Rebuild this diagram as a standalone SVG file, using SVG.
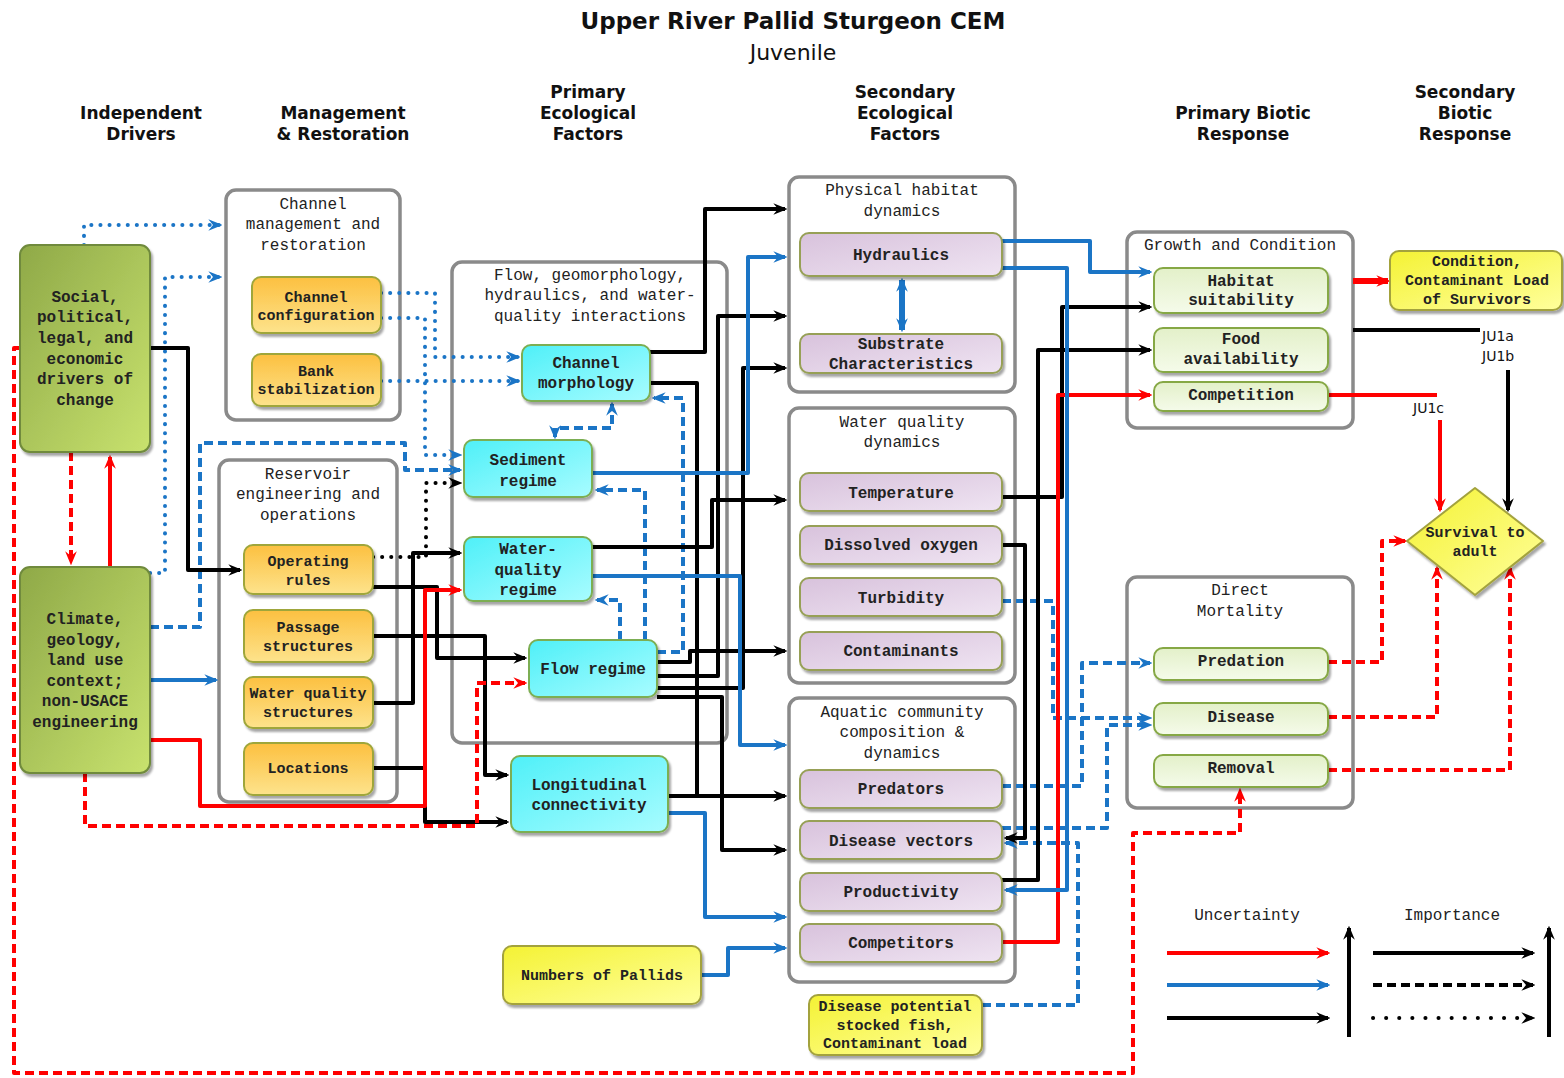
<svg xmlns="http://www.w3.org/2000/svg" width="1564" height="1078" viewBox="0 0 1564 1078">
<style>
  .h{font-family:"DejaVu Sans","Liberation Sans",sans-serif;font-weight:bold;font-size:17px;text-anchor:middle;fill:#111}
  .t{font-family:"Liberation Mono","DejaVu Sans Mono",monospace;font-size:16px;text-anchor:middle;fill:#222}
  .n{font-family:"Liberation Mono","DejaVu Sans Mono",monospace;font-size:16px;font-weight:bold;text-anchor:middle;fill:#222}
  .s{font-size:15px}
  .ju{font-family:"DejaVu Sans","Liberation Sans",sans-serif;font-size:14px;fill:#111}
  .grp{fill:#fff;stroke:#8a8a8a;stroke-width:3.5}
  .box{stroke-width:2;filter:url(#sh)}
  .drv{fill:url(#gGreen);stroke:#6f8a3c}
  .org{fill:url(#gOrange);stroke:#9fa63a}
  .cyn{fill:url(#gCyan);stroke:#7cae52}
  .lav{fill:url(#gLav);stroke:#97a057}
  .pal{fill:url(#gPale);stroke:#86a845}
  .yel{fill:url(#gYellow);stroke:#a3a23e}
  .c{fill:none;stroke-width:4;stroke-linejoin:round}
  .k{stroke:#000}
  .r{stroke:#f00}
  .b{stroke:#1b75c6}
  .dash{stroke-dasharray:9 5}
  .dot{stroke-dasharray:0.1 9;stroke-linecap:round}
</style>
<defs>
  <linearGradient id="gGreen" x1="0" y1="0" x2="1" y2="1"><stop offset="0" stop-color="#8fa948"/><stop offset="1" stop-color="#c8e26e"/></linearGradient>
  <linearGradient id="gOrange" x1="0" y1="0" x2="0" y2="1"><stop offset="0" stop-color="#fcc040"/><stop offset="1" stop-color="#fde38c"/></linearGradient>
  <linearGradient id="gCyan" x1="0" y1="0" x2="1" y2="1"><stop offset="0" stop-color="#4ff0f8"/><stop offset="1" stop-color="#a8fcff"/></linearGradient>
  <linearGradient id="gLav" x1="0" y1="0" x2="1" y2="1"><stop offset="0" stop-color="#d8c2dc"/><stop offset="1" stop-color="#efe4f2"/></linearGradient>
  <linearGradient id="gPale" x1="0" y1="0" x2="0" y2="1"><stop offset="0" stop-color="#e3f0c9"/><stop offset="1" stop-color="#f5fbea"/></linearGradient>
  <linearGradient id="gYellow" x1="0" y1="0" x2="1" y2="1"><stop offset="0" stop-color="#f4f234"/><stop offset="1" stop-color="#ffff9c"/></linearGradient>
  <filter id="sh" x="-10%" y="-10%" width="125%" height="130%"><feDropShadow dx="2" dy="3" stdDeviation="1.2" flood-color="#000" flood-opacity="0.35"/></filter>
  <marker id="ak" viewBox="0 0 12 10" refX="10" refY="5" markerWidth="14" markerHeight="12" markerUnits="userSpaceOnUse" orient="auto-start-reverse"><path d="M0,0 L12,5 L0,10 L4,5 z" fill="#000"/></marker>
  <marker id="ar" viewBox="0 0 12 10" refX="10" refY="5" markerWidth="14" markerHeight="12" markerUnits="userSpaceOnUse" orient="auto-start-reverse"><path d="M0,0 L12,5 L0,10 L4,5 z" fill="#f00"/></marker>
  <marker id="ab" viewBox="0 0 12 10" refX="10" refY="5" markerWidth="14" markerHeight="12" markerUnits="userSpaceOnUse" orient="auto-start-reverse"><path d="M0,0 L12,5 L0,10 L4,5 z" fill="#1b75c6"/></marker>
</defs>
<rect width="1564" height="1078" fill="#fff"/>

<!-- title and column headings -->
<g id="title">
  <text x="793" y="29" class="h" style="font-size:23px">Upper River Pallid Sturgeon CEM</text>
  <text x="793" y="60" class="h" style="font-size:22px;font-weight:normal">Juvenile</text>
  <text x="141" y="119" class="h">Independent</text><text x="141" y="140" class="h">Drivers</text>
  <text x="343" y="119" class="h">Management</text><text x="343" y="140" class="h">&amp; Restoration</text>
  <text x="588" y="98" class="h">Primary</text><text x="588" y="119" class="h">Ecological</text><text x="588" y="140" class="h">Factors</text>
  <text x="905" y="98" class="h">Secondary</text><text x="905" y="119" class="h">Ecological</text><text x="905" y="140" class="h">Factors</text>
  <text x="1243" y="119" class="h">Primary Biotic</text><text x="1243" y="140" class="h">Response</text>
  <text x="1465" y="98" class="h">Secondary</text><text x="1465" y="119" class="h">Biotic</text><text x="1465" y="140" class="h">Response</text>
</g>

<!-- grouping frames -->
<g id="grp-channel"><rect class="grp" x="226" y="190" width="174" height="230" rx="10"/>
  <text class="t" x="313" y="209">Channel</text><text class="t" x="313" y="229">management and</text><text class="t" x="313" y="250">restoration</text></g>
<g id="grp-reservoir"><rect class="grp" x="219" y="460" width="178" height="342" rx="10"/>
  <text class="t" x="308" y="479">Reservoir</text><text class="t" x="308" y="499">engineering and</text><text class="t" x="308" y="520">operations</text></g>
<g id="grp-flow"><rect class="grp" x="452" y="262" width="275" height="481" rx="10"/>
  <text class="t" x="590" y="280">Flow, geomorphology,</text><text class="t" x="590" y="300">hydraulics, and water-</text><text class="t" x="590" y="321">quality interactions</text></g>
<g id="grp-physical"><rect class="grp" x="789" y="177" width="226" height="215" rx="10"/>
  <text class="t" x="902" y="195">Physical habitat</text><text class="t" x="902" y="216">dynamics</text></g>
<g id="grp-wq"><rect class="grp" x="789" y="408" width="226" height="275" rx="10"/>
  <text class="t" x="902" y="427">Water quality</text><text class="t" x="902" y="447">dynamics</text></g>
<g id="grp-aquatic"><rect class="grp" x="789" y="698" width="226" height="284" rx="10"/>
  <text class="t" x="902" y="717">Aquatic community</text><text class="t" x="902" y="737">composition &amp;</text><text class="t" x="902" y="758">dynamics</text></g>
<g id="grp-growth"><rect class="grp" x="1127" y="232" width="226" height="196" rx="10"/>
  <text class="t" x="1240" y="250">Growth and Condition</text></g>
<g id="grp-mortality"><rect class="grp" x="1127" y="577" width="226" height="231" rx="10"/>
  <text class="t" x="1240" y="595">Direct</text><text class="t" x="1240" y="616">Mortality</text></g>

<!-- connectors -->
<g id="connectors">
  <!-- blue dotted -->
  <path class="c b dot" d="M84,245 V225 H220" marker-end="url(#ab)"/>
  <path class="c b dot" d="M150,573 H165 V277 H220" marker-end="url(#ab)"/>
  <path class="c b dot" d="M381,293 H435 V357 H518" marker-end="url(#ab)"/>
  <path class="c b dot" d="M381,318 H425 V455 H460" marker-end="url(#ab)"/>
  <path class="c b dot" d="M381,381 H518" marker-end="url(#ab)"/>
  <!-- blue dashed -->
  <path class="c b dash" d="M150,627 H200 V443 H405 V470 H460" marker-end="url(#ab)"/>
  <path class="c b dash" d="M645,640 V490 H597" marker-end="url(#ab)"/>
  <path class="c b dash" d="M620,640 V600 H597" marker-end="url(#ab)"/>
  <path class="c b dash" d="M657,652 H683 V398 H654" marker-end="url(#ab)"/>
  <path class="c b dash" d="M555,437 V428 H612 V404" marker-start="url(#ab)" marker-end="url(#ab)"/>
  <path class="c b dash" d="M1002,601 H1053 V718 H1150" marker-end="url(#ab)"/>
  <path class="c b dash" d="M1002,786 H1082 V663 H1150" marker-end="url(#ab)"/>
  <path class="c b dash" d="M1002,828 H1107 V725 H1150" marker-end="url(#ab)"/>
  <path class="c b dash" d="M982,1005 H1078 V843 H1006" marker-end="url(#ab)"/>
  <!-- black dotted -->
  <path class="c k dot" d="M373,557 H426 V483 H460" marker-end="url(#ak)"/>
  <!-- black solid -->
  <path class="c k" d="M150,348 H188 V570 H240" marker-end="url(#ak)"/>
  <path class="c k" d="M373,587 H437 V658 H525" marker-end="url(#ak)"/>
  <path class="c k" d="M373,636 H485 V775 H507" marker-end="url(#ak)"/>
  <path class="c k" d="M373,703 H413 V553 H460" marker-end="url(#ak)"/>
  <path class="c k" d="M373,768 H425 V822 H507" marker-end="url(#ak)"/>
  <path class="c k" d="M650,352 H705 V209 H785" marker-end="url(#ak)"/>
  <path class="c k" d="M650,383 H697 V796"/>
  <path class="c k" d="M592,547 H712 V500 H785" marker-end="url(#ak)"/>
  <path class="c k" d="M657,662 H690 V651 H785" marker-end="url(#ak)"/>
  <path class="c k" d="M657,676 H718 V316 H785" marker-end="url(#ak)"/>
  <path class="c k" d="M657,688 H743 V368 H785" marker-end="url(#ak)"/>
  <path class="c k" d="M657,697 H722 V796"/>
  <path class="c k" d="M668,796 H785" marker-end="url(#ak)"/>
  <path class="c k" d="M722,796 V850 H785" marker-end="url(#ak)"/>
  <path class="c k" d="M1002,497 H1062 V307 H1150" marker-end="url(#ak)"/>
  <path class="c k" d="M1002,880 H1038 V350 H1150" marker-end="url(#ak)"/>
  <path class="c k" d="M1002,545 H1025 V838 H1006" marker-end="url(#ak)"/>
  <path class="c k" d="M1353,330 H1480"/>
  <path class="c k" d="M1508,370 V510" marker-end="url(#ak)"/>
  <!-- red solid -->
  <path class="c r" d="M110,567 V457" marker-end="url(#ar)"/>
  <path class="c r" d="M150,740 H200 V806 H425 V590 H460" marker-end="url(#ar)"/>
  <path class="c r" d="M1002,942 H1058 V395 H1150" marker-end="url(#ar)"/>
  <path class="c r" d="M1328,395 H1437"/>
  <path class="c r" d="M1440,420 V510" marker-end="url(#ar)"/>
  <path class="c r" style="stroke-width:6" d="M1353,281 H1388" marker-end="url(#ar)"/>
  <!-- red dashed -->
  <path class="c r dash" d="M71,452 V563" marker-end="url(#ar)"/>
  <path class="c r dash" d="M85,773 V826 H477 V683 H525" marker-end="url(#ar)"/>
  <path class="c r dash" d="M20,348 H14 V1073 H1133 V833 H1240 V790" marker-end="url(#ar)"/>
  <path class="c r dash" d="M1328,662 H1382 V541 H1405" marker-end="url(#ar)"/>
  <path class="c r dash" d="M1328,717 H1437 V568" marker-end="url(#ar)"/>
  <path class="c r dash" d="M1328,770 H1510 V568" marker-end="url(#ar)"/>
  <!-- blue solid -->
  <path class="c b" d="M150,680 H216" marker-end="url(#ab)"/>
  <path class="c b" d="M592,473 H748 V257 H785" marker-end="url(#ab)"/>
  <path class="c b" d="M592,576 H740 V745 H785" marker-end="url(#ab)"/>
  <path class="c b" d="M1002,241 H1090 V272 H1150" marker-end="url(#ab)"/>
  <path class="c b" d="M1002,268 H1067 V890 H1006" marker-end="url(#ab)"/>
  <path class="c b" style="stroke-width:6" d="M902,280 V330" marker-start="url(#ab)" marker-end="url(#ab)"/>
  <path class="c b" d="M668,813 H705 V917 H785" marker-end="url(#ab)"/>
  <path class="c b" d="M701,975 H728 V948 H785" marker-end="url(#ab)"/>
</g>

<!-- independent drivers -->
<g id="social"><rect class="box drv" x="20" y="245" width="130" height="207" rx="10"/>
  <text class="n" x="85" y="302">Social,</text><text class="n" x="85" y="322">political,</text><text class="n" x="85" y="343">legal, and</text>
  <text class="n" x="85" y="364">economic</text><text class="n" x="85" y="384">drivers of</text><text class="n" x="85" y="405">change</text></g>
<g id="climate"><rect class="box drv" x="20" y="567" width="130" height="206" rx="10"/>
  <text class="n" x="85" y="624">Climate,</text><text class="n" x="85" y="645">geology,</text><text class="n" x="85" y="665">land use</text>
  <text class="n" x="85" y="686">context;</text><text class="n" x="85" y="706">non-USACE</text><text class="n" x="85" y="727">engineering</text></g>

<!-- management and restoration -->
<g id="channel-config"><rect class="box org" x="252" y="277" width="129" height="56" rx="9"/>
  <text class="n s" x="316" y="302">Channel</text><text class="n s" x="316" y="320">configuration</text></g>
<g id="bank-stab"><rect class="box org" x="252" y="354" width="129" height="52" rx="9"/>
  <text class="n s" x="316" y="376">Bank</text><text class="n s" x="316" y="394">stabilization</text></g>
<g id="operating-rules"><rect class="box org" x="244" y="545" width="129" height="49" rx="9"/>
  <text class="n s" x="308" y="566">Operating</text><text class="n s" x="308" y="585">rules</text></g>
<g id="passage"><rect class="box org" x="244" y="610" width="129" height="52" rx="9"/>
  <text class="n s" x="308" y="632">Passage</text><text class="n s" x="308" y="651">structures</text></g>
<g id="wq-structures"><rect class="box org" x="244" y="677" width="129" height="51" rx="9"/>
  <text class="n s" x="308" y="698">Water quality</text><text class="n s" x="308" y="717">structures</text></g>
<g id="locations"><rect class="box org" x="244" y="743" width="129" height="52" rx="9"/>
  <text class="n s" x="308" y="773">Locations</text></g>

<!-- primary ecological factors -->
<g id="channel-morphology"><rect class="box cyn" x="522" y="345" width="128" height="56" rx="9"/>
  <text class="n" x="586" y="368">Channel</text><text class="n" x="586" y="388">morphology</text></g>
<g id="sediment"><rect class="box cyn" x="464" y="440" width="128" height="57" rx="9"/>
  <text class="n" x="528" y="465">Sediment</text><text class="n" x="528" y="486">regime</text></g>
<g id="wq-regime"><rect class="box cyn" x="464" y="537" width="128" height="64" rx="9"/>
  <text class="n" x="528" y="554">Water-</text><text class="n" x="528" y="575">quality</text><text class="n" x="528" y="595">regime</text></g>
<g id="flow-regime"><rect class="box cyn" x="529" y="640" width="128" height="57" rx="9"/>
  <text class="n" x="593" y="674">Flow regime</text></g>
<g id="longitudinal"><rect class="box cyn" x="511" y="756" width="157" height="76" rx="9"/>
  <text class="n" x="589" y="790">Longitudinal</text><text class="n" x="589" y="810">connectivity</text></g>
<g id="numbers"><rect class="box yel" x="503" y="946" width="198" height="58" rx="9"/>
  <text class="n s" x="602" y="980">Numbers of Pallids</text></g>

<!-- secondary ecological factors -->
<g id="hydraulics"><rect class="box lav" x="800" y="233" width="202" height="43" rx="9"/>
  <text class="n" x="901" y="260">Hydraulics</text></g>
<g id="substrate"><rect class="box lav" x="800" y="334" width="202" height="39" rx="9"/>
  <text class="n" x="901" y="349">Substrate</text><text class="n" x="901" y="369">Characteristics</text></g>
<g id="temperature"><rect class="box lav" x="800" y="473" width="202" height="38" rx="9"/>
  <text class="n" x="901" y="498">Temperature</text></g>
<g id="dissolved-oxygen"><rect class="box lav" x="800" y="526" width="202" height="38" rx="9"/>
  <text class="n" x="901" y="550">Dissolved oxygen</text></g>
<g id="turbidity"><rect class="box lav" x="800" y="578" width="202" height="38" rx="9"/>
  <text class="n" x="901" y="603">Turbidity</text></g>
<g id="contaminants"><rect class="box lav" x="800" y="632" width="202" height="38" rx="9"/>
  <text class="n" x="901" y="656">Contaminants</text></g>
<g id="predators"><rect class="box lav" x="800" y="770" width="202" height="38" rx="9"/>
  <text class="n" x="901" y="794">Predators</text></g>
<g id="disease-vectors"><rect class="box lav" x="800" y="821" width="202" height="38" rx="9"/>
  <text class="n" x="901" y="846">Disease vectors</text></g>
<g id="productivity"><rect class="box lav" x="800" y="873" width="202" height="38" rx="9"/>
  <text class="n" x="901" y="897">Productivity</text></g>
<g id="competitors"><rect class="box lav" x="800" y="924" width="202" height="38" rx="9"/>
  <text class="n" x="901" y="948">Competitors</text></g>
<g id="disease-potential"><rect class="box yel" x="809" y="995" width="173" height="60" rx="9"/>
  <text class="n s" x="895" y="1011">Disease potential</text><text class="n s" x="895" y="1030">stocked fish,</text><text class="n s" x="895" y="1048">Contaminant load</text></g>

<!-- primary biotic response -->
<g id="habitat-suitability"><rect class="box pal" x="1154" y="268" width="174" height="45" rx="9"/>
  <text class="n" x="1241" y="286">Habitat</text><text class="n" x="1241" y="305">suitability</text></g>
<g id="food"><rect class="box pal" x="1154" y="328" width="174" height="44" rx="9"/>
  <text class="n" x="1241" y="344">Food</text><text class="n" x="1241" y="364">availability</text></g>
<g id="competition"><rect class="box pal" x="1154" y="382" width="174" height="29" rx="9"/>
  <text class="n" x="1241" y="400">Competition</text></g>
<g id="predation"><rect class="box pal" x="1154" y="648" width="174" height="32" rx="9"/>
  <text class="n" x="1241" y="666">Predation</text></g>
<g id="disease"><rect class="box pal" x="1154" y="703" width="174" height="32" rx="9"/>
  <text class="n" x="1241" y="722">Disease</text></g>
<g id="removal"><rect class="box pal" x="1154" y="755" width="174" height="32" rx="9"/>
  <text class="n" x="1241" y="773">Removal</text></g>

<!-- secondary biotic response -->
<g id="condition"><rect class="box yel" x="1390" y="251" width="172" height="59" rx="9"/>
  <text class="n s" x="1477" y="266">Condition,</text><text class="n s" x="1477" y="285">Contaminant Load</text><text class="n s" x="1477" y="304">of Survivors</text></g>
<g id="survival"><path class="box yel" d="M1475,488 L1543,541 L1475,595 L1407,541 Z" stroke-linejoin="round"/>
  <text class="n s" x="1475" y="537">Survival to</text><text class="n s" x="1475" y="556">adult</text></g>
<g id="ju-labels">
  <text class="ju" x="1482" y="341">JU1a</text><text class="ju" x="1482" y="361">JU1b</text><text class="ju" x="1413" y="413">JU1c</text>
</g>

<!-- key -->
<g id="legend">
  <text class="t" x="1247" y="920">Uncertainty</text><text class="t" x="1452" y="920">Importance</text>
  <path class="c r" d="M1167,953 H1328" marker-end="url(#ar)"/>
  <path class="c b" d="M1167,985 H1328" marker-end="url(#ab)"/>
  <path class="c k" d="M1167,1018 H1328" marker-end="url(#ak)"/>
  <path class="c k" d="M1349,1037 V928" marker-end="url(#ak)"/>
  <path class="c k" d="M1373,953 H1533" marker-end="url(#ak)"/>
  <path class="c k dash" d="M1373,985 H1533" marker-end="url(#ak)"/>
  <path class="c k dot" style="stroke-dasharray:0.1 13" d="M1373,1018 H1533" marker-end="url(#ak)"/>
  <path class="c k" d="M1549,1037 V928" marker-end="url(#ak)"/>
</g>
</svg>
